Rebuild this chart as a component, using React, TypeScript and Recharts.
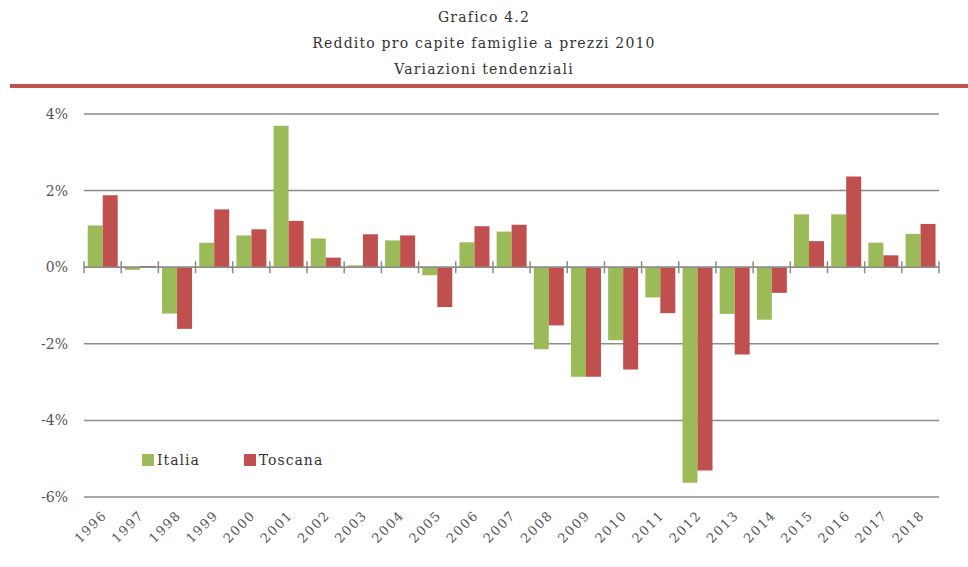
import React from 'react';
import {
  BarChart,
  Bar,
  XAxis,
  YAxis,
  CartesianGrid,
  ReferenceLine,
  Legend,
} from 'recharts';

const YEARS = [
  '1996', '1997', '1998', '1999', '2000', '2001', '2002', '2003', '2004', '2005', '2006', '2007',
  '2008', '2009', '2010', '2011', '2012', '2013', '2014', '2015', '2016', '2017', '2018',
];

const ITALIA = [
  1.09, -0.07, -1.21, 0.64, 0.83, 3.69, 0.75, 0.05, 0.7, -0.21, 0.65, 0.93,
  -2.14, -2.86, -1.91, -0.79, -5.63, -1.22, -1.37, 1.38, 1.38, 0.64, 0.87,
];

const TOSCANA = [
  1.88, 0.03, -1.61, 1.51, 0.99, 1.21, 0.25, 0.86, 0.83, -1.04, 1.07, 1.11,
  -1.52, -2.86, -2.67, -1.2, -5.31, -2.28, -0.67, 0.68, 2.37, 0.31, 1.13,
];

const Y_TICKS = [-6, -4, -2, 0, 2, 4];

const TITLE_LINES = ['Grafico 4.2', 'Reddito pro capite famiglie a prezzi 2010', 'Variazioni tendenziali'];

const GREEN = '#9BBB59';
const RED = '#C0504D';
const GRID = '#8c8c8c';
const TEXT = '#555555';
const FONT = '"DejaVu Serif", serif';

const data = YEARS.map((year, i) => ({ year, italia: ITALIA[i], toscana: TOSCANA[i] }));

// zero line with small tick marks at every category boundary
function ZeroAxis(props: any) {
  const { x1, x2, y1 } = props;
  const step = (x2 - x1) / YEARS.length;
  const ticks = [];
  for (let i = 0; i <= YEARS.length; i++) {
    const x = x1 + i * step;
    ticks.push(<line key={i} x1={x} x2={x} y1={y1 - 6} y2={y1 + 6} stroke={GRID} strokeWidth={1.5} />);
  }
  return (
    <g>
      <line x1={x1} x2={x2} y1={y1} y2={y1} stroke={GRID} strokeWidth={1.5} />
      {ticks}
    </g>
  );
}

function YearTick(props: any) {
  const { x, y, payload } = props;
  return (
    <g transform={`translate(${x + 5},${y + 11})`}>
      <text
        textAnchor="end"
        transform="rotate(-45)"
        fontFamily={FONT}
        fontSize={13}
        letterSpacing={1.5}
        fill={TEXT}
      >
        {payload.value}
      </text>
    </g>
  );
}

function LegendBox(props: any) {
  const { payload } = props;
  return (
    <div style={{ display: 'flex', fontFamily: FONT, fontSize: 14, letterSpacing: 1, color: '#333' }}>
      {payload.map((p: any) => (
        <div key={p.value} style={{ display: 'flex', alignItems: 'center', marginRight: 44 }}>
          <span style={{ width: 12, height: 12, background: p.color, marginRight: 3, display: 'inline-block' }} />
          <span>{p.value}</span>
        </div>
      ))}
    </div>
  );
}

export default function App() {
  return (
    <div style={{ position: 'absolute', left: 0, top: 0, width: 968, height: 567, background: '#fff' }}>
      {TITLE_LINES.map((line, i) => (
        <div
          key={line}
          style={{
            position: 'absolute',
            left: 0,
            width: 968,
            top: 9 + i * 26,
            textAlign: 'center',
            fontFamily: FONT,
            fontSize: 14,
            letterSpacing: 1.2,
            color: '#333',
          }}
        >
          {line}
        </div>
      ))}
      <div style={{ position: 'absolute', left: 10, right: 0, top: 84, height: 4, background: RED }} />
      <div style={{ position: 'absolute', left: 0, top: 0 }}>
        <BarChart
          width={968}
          height={567}
          data={data}
          margin={{ top: 114, right: 29, bottom: 40, left: 20 }}
          barCategoryGap="10%"
          barGap={0}
        >
          <CartesianGrid vertical={false} stroke={GRID} strokeWidth={1.5} />
          <XAxis
            dataKey="year"
            axisLine={false}
            tickLine={false}
            interval={0}
            tick={<YearTick />}
          />
          <YAxis
            width={64}
            domain={[-6, 4]}
            ticks={Y_TICKS}
            axisLine={false}
            tickLine={false}
            tickMargin={10}
            tickFormatter={(v) => `${v}%`}
            tick={{ fontFamily: FONT, fontSize: 14, fill: TEXT }}
          />
          <Legend
            layout="horizontal"
            verticalAlign="middle"
            align="center"
            wrapperStyle={{ left: 142, top: 452, width: 'auto' }}
            content={<LegendBox />}
          />
          <Bar dataKey="italia" name="Italia" fill={GREEN} isAnimationActive={false} />
          <Bar dataKey="toscana" name="Toscana" fill={RED} isAnimationActive={false} />
          <ReferenceLine y={0} shape={<ZeroAxis />} />
        </BarChart>
      </div>
    </div>
  );
}
